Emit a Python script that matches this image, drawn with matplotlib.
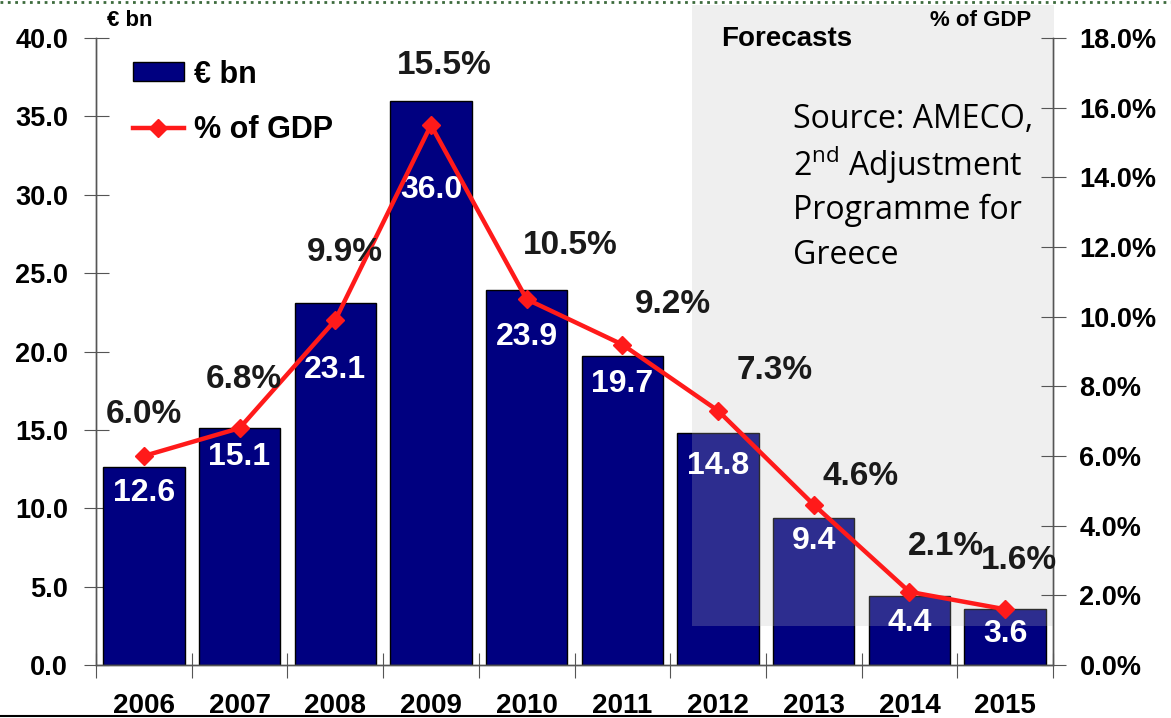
import numpy as np
import matplotlib
matplotlib.use("Agg")
import matplotlib.pyplot as plt
from matplotlib.patches import Rectangle, Patch
from matplotlib.lines import Line2D

# data
years = ['2006', '2007', '2008', '2009', '2010', '2011', '2012', '2013', '2014', '2015']
deficit_bn = [12.6, 15.1, 23.1, 36.0, 23.9, 19.7, 14.8, 9.4, 4.4, 3.6]
deficit_pct = [6.0, 6.8, 9.9, 15.5, 10.5, 9.2, 7.3, 4.6, 2.1, 1.6]
left_ticks = [0, 5, 10, 15, 20, 25, 30, 35, 40]
right_ticks = [0, 2, 4, 6, 8, 10, 12, 14, 16, 18]

# label placement (layout only)
bar_lab_y = [11.0, 13.3, 18.8, 30.3, 20.9, 17.9, 12.7, 7.9, 2.7, 2.0]
pct_lab_x = [0.0, 1.04, 2.1, 3.14, 4.46, 5.53, 6.59, 7.49, 8.38, 9.14]
pct_lab_y = [7.2, 8.2, 11.85, 17.2, 12.05, 10.35, 8.45, 5.4, 3.4, 3.0]

plt.rcParams['font.family'] = ['Liberation Sans', 'DejaVu Sans']
plt.rcParams['mathtext.fontset'] = 'custom'
plt.rcParams['mathtext.rm'] = 'Open Sans'

W, H = 1171, 718
fig = plt.figure(figsize=(W / 100, H / 100), dpi=100)
ax = fig.add_axes([96 / W, 1 - 665 / H, (1053 - 96) / W, (665 - 38) / H])
ax2 = ax.twinx()

x = np.arange(len(years))
navy = '#000080'
red = '#ff1a1a'
axis_col = '#555555'

ax.bar(x, deficit_bn, width=0.85, color=navy, edgecolor='black', linewidth=1.0, zorder=2)
for i, v in enumerate(deficit_bn):
    ax.text(x[i], bar_lab_y[i], f'{v:.1f}', color='white', fontsize=23, fontweight='bold',
            ha='center', va='center', zorder=6)

# forecast shading
shade = Rectangle((5.73, (665 - 626) / 627), 9.51 - 5.73, (626 - 5) / 627,
                  transform=ax.get_xaxis_transform(), facecolor='#c0c0c0', alpha=0.24,
                  edgecolor='none', clip_on=False, zorder=4)
ax.add_patch(shade)

ax.set_xlim(-0.5, 9.5)
ax.set_ylim(0, 40)
ax.set_yticks(left_ticks)
ax.set_yticklabels([f'{t:.1f}' for t in left_ticks])
ax2.set_ylim(0, 18)
ax2.set_yticks(right_ticks)
ax2.set_yticklabels([f'{t:.1f}%' for t in right_ticks])

ax.set_xticks(np.arange(-0.5, 10, 1))
ax.set_xticklabels([])
ax.set_xticks(x, minor=True)
ax.set_xticklabels(years, minor=True)
ax.tick_params(axis='x', which='major', direction='inout', length=18, color=axis_col)
ax.tick_params(axis='x', which='minor', length=0, pad=20, labelsize=20)
ax.tick_params(axis='y', direction='inout', length=18, color=axis_col, pad=11, labelsize=19.5)
ax2.tick_params(axis='y', direction='inout', length=18, color=axis_col, pad=10, labelsize=19.5)
for lab in ax.get_xticklabels(minor=True) + ax.get_yticklabels() + ax2.get_yticklabels():
    lab.set_fontweight('bold')

for a in (ax, ax2):
    a.spines['top'].set_visible(False)
    for s in ('left', 'right', 'bottom'):
        a.spines[s].set_color(axis_col)
        a.spines[s].set_linewidth(1.0)

ax2.plot(x, deficit_pct, color=red, linewidth=3.2, marker='D', markersize=9, zorder=5)
for i, v in enumerate(deficit_pct):
    ax2.text(pct_lab_x[i], pct_lab_y[i], f'{v:.1f}%', color='#1a1a1a', fontsize=24,
             fontweight='bold', ha='center', va='center', zorder=6)

handles = [Patch(facecolor=navy, edgecolor='black', linewidth=1.0),
           Line2D([0], [0], color=red, linewidth=3.2, marker='D', markersize=9)]
fig.legend(handles, ['€ bn', '% of GDP'], loc='upper left', bbox_to_anchor=(105 / W, 1 - 32 / H),
           frameon=False, prop={'weight': 'bold', 'size': 22},
           handlelength=1.7, handleheight=0.55, handletextpad=0.3, labelspacing=0.85)

fig.text(130 / W, 1 - 20 / H, '€ bn', fontsize=16, fontweight='bold', ha='center', va='center')
fig.text(981 / W, 1 - 20 / H, '% of GDP', fontsize=16, fontweight='bold', ha='center', va='center')
fig.text(787 / W, 1 - 39 / H, 'Forecasts', fontsize=20, fontweight='bold', ha='center', va='center')

src_lines = ['Source: AMECO,', '2$^{\\mathrm{nd}}$ Adjustment', 'Programme for', 'Greece']
for k, line in enumerate(src_lines):
    fig.text(793 / W, 1 - (120 + 45 * k) / H, line, fontsize=23, fontweight='normal',
             family=['Open Sans', 'DejaVu Sans'], ha='left', va='center')

# border lines of the original slide
fig.add_artist(Line2D([0, 898 / W], [1 - 716 / H, 1 - 716 / H], color='black', linewidth=1.5))
fig.add_artist(Line2D([0, 1], [1 - 1.5 / H, 1 - 1.5 / H], color='#3d6b3d', linewidth=2, linestyle=':'))

fig.savefig('out.png', dpi=100)
